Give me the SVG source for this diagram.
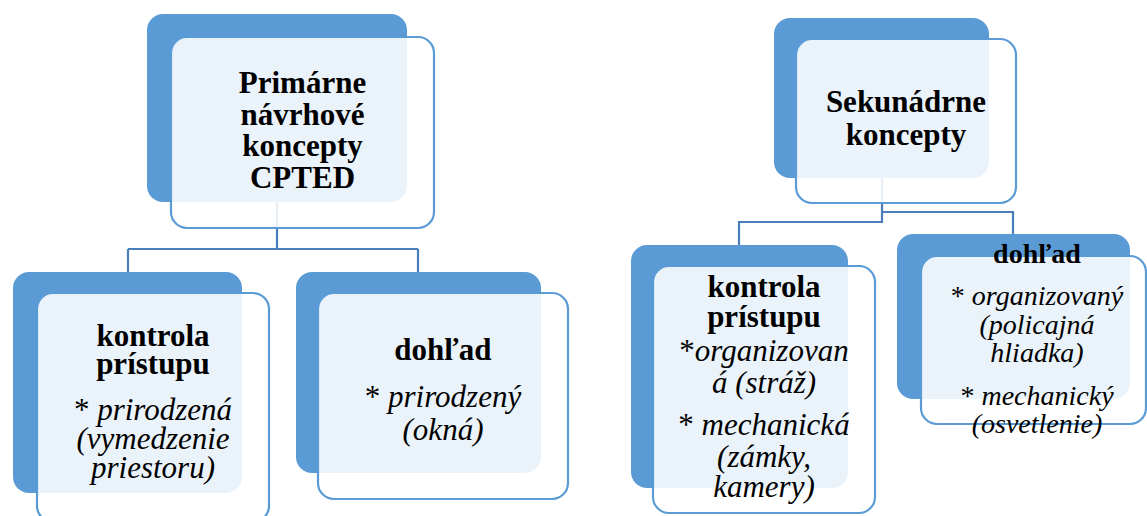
<svg xmlns="http://www.w3.org/2000/svg" width="1147" height="516" viewBox="0 0 1147 516">
<style>
.back{fill:#5B9BD5;}
.front{fill:#ffffff;fill-opacity:0.88;stroke:#5B9BD5;stroke-width:2.2;}
.conn{fill:none;stroke:#4A7EBB;stroke-width:2.2;}
text{font-family:"Liberation Serif","Times New Roman",serif;fill:#000;text-anchor:middle;}
.b{font-weight:bold;font-size:31px;}
.i{font-style:italic;font-size:31px;}
.b2{font-weight:bold;font-size:28px;}
.i2{font-style:italic;font-size:28px;}
.n{font-style:normal;}
</style>
<rect width="1147" height="516" fill="#ffffff"/>
<g id="connectors">
<path class="conn" d="M277,202 V249 M128,249 H418 M128,249 V272 M418,249 V272"/>
<path class="conn" d="M882,178 V222 H739 V245 M882,212 H1013 V234"/>
</g>
<g id="node-primarne">
<rect class="back" x="147" y="14" width="260" height="188" rx="16"/>
<rect class="front" x="171" y="37" width="263" height="191" rx="16"/>
<text class="b" x="302.5" y="93">Primárne</text>
<text class="b" x="302.5" y="124.5">návrhové</text>
<text class="b" x="302.5" y="156">koncepty</text>
<text class="b" x="302.5" y="188">CPTED</text>
</g>
<g id="node-sekundarne">
<rect class="back" x="774" y="18" width="215" height="160" rx="16"/>
<rect class="front" x="796" y="39" width="220" height="164" rx="16"/>
<text class="b" x="906" y="112">Sekunádrne</text>
<text class="b" x="906" y="145">koncepty</text>
</g>
<g id="node-kontrola-1">
<rect class="back" x="13" y="272" width="229" height="221" rx="16"/>
<rect class="front" x="37" y="293" width="232" height="229" rx="16"/>
<text class="b" x="153" y="346">kontrola</text>
<text class="b" x="153" y="374">prístupu</text>
<text class="i" x="153" y="420"><tspan class="n">* </tspan>prirodzená</text>
<text class="i" x="153" y="449">(vymedzenie</text>
<text class="i" x="153" y="478">priestoru)</text>
</g>
<g id="node-dohlad-1">
<rect class="back" x="296" y="272" width="245" height="201" rx="16"/>
<rect class="front" x="318" y="293" width="250" height="206" rx="16"/>
<text class="b" x="443" y="360">dohľad</text>
<text class="i" x="443" y="407"><tspan class="n">* </tspan>prirodzený</text>
<text class="i" x="443" y="440">(okná)</text>
</g>
<g id="node-kontrola-2">
<rect class="back" x="631" y="245" width="217" height="243" rx="16"/>
<rect class="front" x="653" y="266" width="222" height="247" rx="16"/>
<text class="b" x="764" y="297">kontrola</text>
<text class="b" x="764" y="327">prístupu</text>
<text class="i" x="764" y="361"><tspan class="n">*</tspan>organizovan</text>
<text class="i" x="764" y="393">á (stráž)</text>
<text class="i" x="764" y="435"><tspan class="n">* </tspan>mechanická</text>
<text class="i" x="764" y="467">(zámky,</text>
<text class="i" x="764" y="497">kamery)</text>
</g>
<g id="node-dohlad-2">
<rect class="back" x="897" y="234" width="233" height="165" rx="16"/>
<rect class="front" x="921" y="256" width="225" height="168" rx="16"/>
<text class="b2" x="1037" y="263">dohľad</text>
<text class="i2" x="1037" y="305"><tspan class="n">* </tspan>organizovaný</text>
<text class="i2" x="1037" y="334">(policajná</text>
<text class="i2" x="1037" y="362">hliadka)</text>
<text class="i2" x="1037" y="405"><tspan class="n">* </tspan>mechanický</text>
<text class="i2" x="1037" y="433">(osvetlenie)</text>
</g>
</svg>
